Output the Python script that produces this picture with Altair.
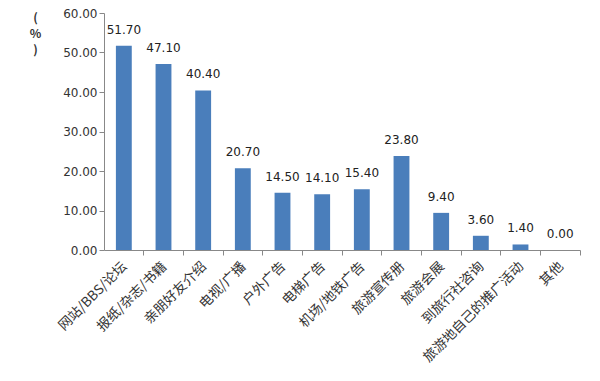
import altair as alt
import pandas as pd

categories = ["网站/BBS/论坛", "报纸/杂志/书籍", "亲朋好友介绍", "电视/广播", "户外广告", "电梯广告",
              "机场/地铁广告", "旅游宣传册", "旅游会展", "到旅行社咨询", "旅游地自己的推广活动", "其他"]
values = [51.70, 47.10, 40.40, 20.70, 14.50, 14.10, 15.40, 23.80, 9.40, 3.60, 1.40, 0.00]
y_ticks = [0, 10, 20, 30, 40, 50, 60]

df = pd.DataFrame({"cat": categories, "val": values})
font = "Noto Sans CJK SC"

x = alt.X("cat:N", sort=categories, title=None,
          scale=alt.Scale(paddingInner=0.6, paddingOuter=0.3),
          axis=alt.Axis(labelAngle=-45, labelAlign="right", labelBaseline="middle",
                        bandPosition=1.75, labelOffset=1, labelPadding=9,
                        labelOverlap=False, labelLimit=300,
                        tickSize=5, domainColor="#888888", tickColor="#888888",
                        labelFont=font, labelFontSize=13.5, labelColor="#333333"))
y = alt.Y("val:Q", title=["(", "%", ")"],
          scale=alt.Scale(domain=[0, 60], nice=False),
          axis=alt.Axis(values=y_ticks, format=".2f", grid=False,
                        labelOverlap=False, labelFlush=False, labelSeparation=0,
                        tickSize=5, domainColor="#888888", tickColor="#888888",
                        labelFont="DejaVu Sans", labelFontSize=12, labelColor="#333333",
                        titleAngle=0, titleFont=font, titleFontSize=12, titleFontWeight="bold",
                        titleColor="#333333", titleX=-69, titleY=-1, titleAlign="center",
                        titleBaseline="top", titleLineHeight=16))

bars = alt.Chart(df).mark_bar(color="#4a7ebb").encode(x=x, y=y)
labels = alt.Chart(df).mark_text(dy=-9, baseline="bottom", font="DejaVu Sans", fontSize=12,
                                 color="#222222").encode(
    x=x, y=y, text=alt.Text("val:Q", format=".2f"))

chart = (bars + labels).properties(
    width=476, height=237,
    autosize=alt.AutoSizeParams(type="none"),
    padding={"left": 96, "top": 5, "right": 12, "bottom": 123},
).configure_view(stroke=None)

chart.save("out.html", embed_options={"renderer": "svg", "actions": False})
